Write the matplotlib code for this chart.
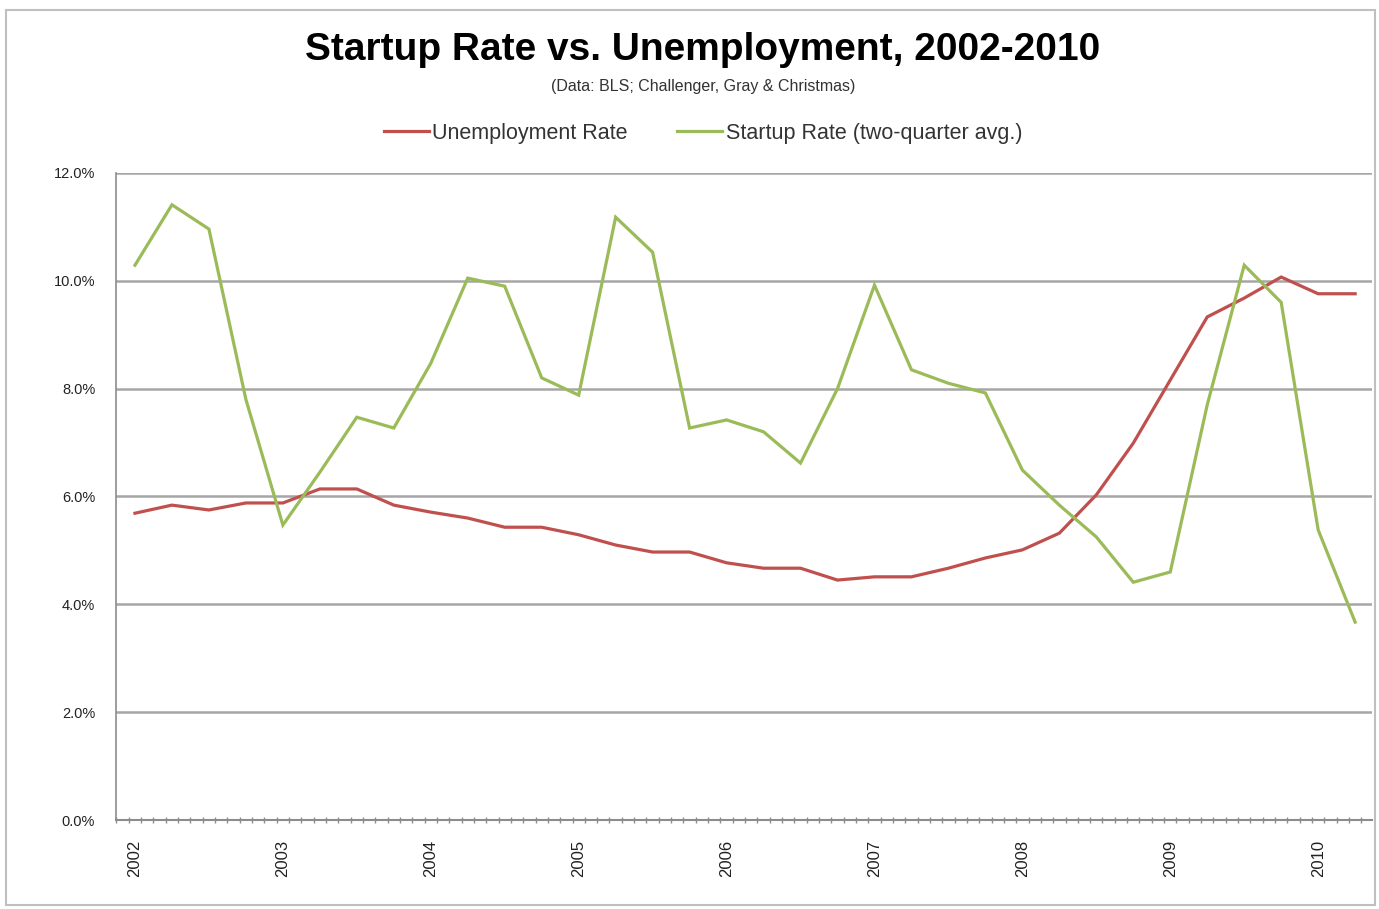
import matplotlib
matplotlib.use('Agg')
import matplotlib.pyplot as plt
import numpy as np
from matplotlib.patches import Rectangle

plt.rcParams['font.family'] = ['Liberation Sans', 'DejaVu Sans']

# quarterly observations, 2002 Q1 .. 2010 Q2
quarters = [2002 + i / 4 for i in range(34)]
years = list(range(2002, 2011))

unemployment = [5.69, 5.84, 5.75, 5.88, 5.88, 6.14, 6.14, 5.84, 5.71, 5.60,
                5.43, 5.43, 5.29, 5.10, 4.97, 4.97, 4.77, 4.67, 4.67, 4.45,
                4.51, 4.51, 4.67, 4.86, 5.01, 5.32, 6.03, 6.99, 8.16, 9.33,
                9.68, 10.07, 9.76, 9.76]

startup = [10.29, 11.41, 10.96, 7.80, 5.47, 6.45, 7.47, 7.27, 8.47, 10.05,
           9.90, 8.20, 7.88, 11.18, 10.53, 7.27, 7.42, 7.20, 6.62, 8.00,
           9.92, 8.35, 8.10, 7.92, 6.49, 5.84, 5.25, 4.41, 4.60, 7.70,
           10.29, 9.60, 5.38, 3.67]

red = '#C0504D'
green = '#9BBB59'
grid_col = '#A6A6A6'

fig = plt.figure(figsize=(13.79, 9.09), dpi=100)
ax = fig.add_axes([0.0841, 0.0979, 0.9108, 0.7118])

# chart frame
fig.patches.append(Rectangle((0.004, 0.004), 0.993, 0.985, transform=fig.transFigure,
                             fill=False, edgecolor='#BFBFBF', linewidth=1.5))

ax.plot(quarters, unemployment, color=red, linewidth=2.3, label='Unemployment Rate',
        solid_joinstyle='miter')
ax.plot(quarters, startup, color=green, linewidth=2.3, label='Startup Rate (two-quarter avg.)',
        solid_joinstyle='miter')

ax.set_ylim(0, 12)
ax.set_yticks(np.arange(0, 12.1, 2))
ax.set_yticklabels([f'{v:.1f}%' for v in np.arange(0, 12.1, 2)])
ax.yaxis.grid(True, color=grid_col, linewidth=1.8)
ax.set_axisbelow(True)

x_left = 2002 - 19 / 147.9
x_right = 2002 + (1372 - 135) / 147.9
ax.set_xlim(x_left, x_right)
ax.set_xticks(years)
ax.set_xticklabels([str(y) for y in years], rotation=90)
monthly = np.arange(2002 - 1.5 / 12, x_right, 1 / 12)
ax.set_xticks(monthly, minor=True)
ax.tick_params(axis='x', which='major', length=0, pad=14, labelsize=12, labelcolor='#222222')
ax.tick_params(axis='x', which='minor', length=5, direction='inout', color='#8C8C8C', width=1)
ax.tick_params(axis='y', length=0, pad=15, labelsize=10.5, labelcolor='#222222')

for s in ['top', 'right']:
    ax.spines[s].set_visible(False)
ax.spines['left'].set_color('#8C8C8C')
ax.spines['bottom'].set_color('#8C8C8C')
ax.spines['left'].set_linewidth(1.2)
ax.spines['bottom'].set_linewidth(1.5)

cx = 703 / 1379
fig.text(cx, 1 - 50 / 909, 'Startup Rate vs. Unemployment, 2002-2010', ha='center', va='center',
         fontsize=28, fontweight='bold')
fig.text(cx, 1 - 87 / 909, '(Data: BLS; Challenger, Gray & Christmas)', ha='center', va='center',
         fontsize=11.5, color='#333333')

fig.legend(loc='center', bbox_to_anchor=(cx, 1 - 133 / 909), ncol=2, frameon=False,
           fontsize=15.5, handlelength=2.1, handletextpad=0.15, columnspacing=2.3,
           labelcolor='#333333')

fig.savefig('out.png', dpi=100)
